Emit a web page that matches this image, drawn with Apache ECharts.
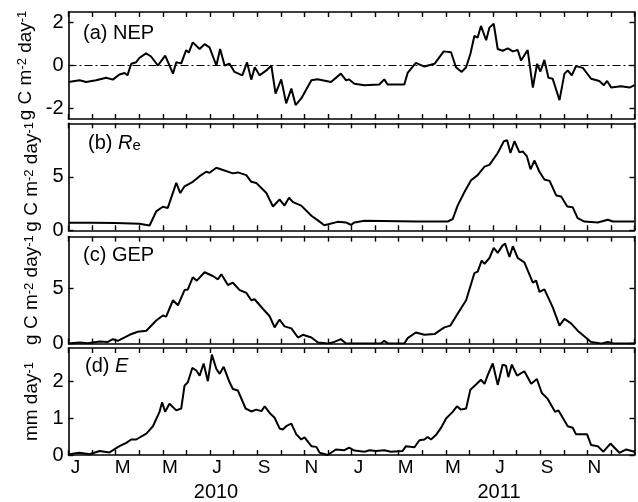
<!DOCTYPE html>
<html><head><meta charset="utf-8">
<script src="https://cdn.jsdelivr.net/npm/echarts@6/dist/echarts.min.js"></script>
<style>html,body{margin:0;padding:0;background:#fff}#c{width:638px;height:502px}</style>
</head><body><div id="c"></div>
<script>
// x values are months since 1 Jan 2010
const nepMonths = [0,0.47,0.75,1.17,1.6,1.88,2.16,2.38,2.5,2.66,2.87,3.0,3.29,3.5,3.79,4.1,4.43,4.57,4.78,4.99,5.1,5.27,5.56,5.77,5.98,6.27,6.43,6.62,6.83,7.04,7.37,7.57,7.75,7.9,8.1,8.39,8.6,8.78,9.02,9.23,9.45,9.63,9.87,10.3,10.56,11.13,11.55,11.77,11.9,12.12,12.55,13.18,13.39,13.53,14.24,14.38,14.73,15.09,15.52,15.91,16.22,16.43,16.67,16.86,17.04,17.21,17.35,17.49,17.71,17.85,18.03,18.2,18.41,18.63,18.84,19.05,19.19,19.47,19.69,19.87,20.01,20.18,20.35,20.53,20.82,21.03,21.17,21.34,21.52,21.81,22.16,22.51,22.7,22.84,23.01,23.43,23.79,24];
const nepValues = [-0.77,-0.69,-0.77,-0.69,-0.57,-0.66,-0.42,-0.35,-0.46,0.08,0.15,0.35,0.57,0.42,0.0,0.46,-0.38,0.15,0.1,0.72,0.6,1.08,0.77,1.0,0.85,0.0,0.77,0.0,0.08,-0.3,-0.46,0.15,-0.66,-0.08,-0.46,-0.23,0.0,-1.31,-0.65,-1.77,-1.08,-1.85,-1.54,-0.69,-0.64,-0.77,-0.38,-0.69,-0.65,-0.85,-0.92,-0.89,-0.65,-0.89,-0.89,-0.35,0.12,-0.05,0.08,0.66,0.62,-0.08,-0.3,-0.08,0.54,1.38,1.31,1.85,1.18,1.77,1.95,0.77,0.69,0.8,0.66,0.72,0.23,0.72,-1.03,0.08,-0.28,0.26,-0.57,-0.62,-1.62,-0.38,-0.23,-0.46,-0.03,-0.11,-0.62,-0.72,-0.92,-0.72,-1.03,-0.97,-1.03,-0.92];

const reMonths = [0,1,2,3,3.44,3.72,4.0,4.21,4.57,4.74,4.92,5.27,5.56,5.84,5.98,6.27,6.55,6.97,7.18,7.54,7.75,7.96,8.39,8.67,8.95,9.16,9.35,9.52,9.87,10.3,10.56,10.85,11.41,11.77,11.98,12.12,12.55,14.81,16.08,16.29,16.5,16.79,17.07,17.35,17.64,17.85,17.92,18.2,18.46,18.6,18.74,18.91,19.12,19.26,19.44,19.59,19.76,19.97,20.18,20.4,20.68,20.89,21.15,21.38,21.59,21.88,22.44,22.87,23.08,24];
const reValues = [0.7,0.7,0.68,0.62,0.45,1.77,2.2,2.09,4.43,3.48,4.11,4.53,5.06,5.47,5.38,5.85,5.63,5.32,5.41,5.16,4.53,4.43,3.48,2.22,2.88,2.31,3.04,2.63,2.31,1.36,0.95,0.47,0.79,0.73,0.51,0.73,0.89,0.82,0.82,1.04,2.31,3.58,4.68,5.16,5.95,6.11,5.95,7.22,8.32,8.42,7.22,8.32,7.28,7.37,6.9,5.7,6.52,5.47,4.75,4.62,3.26,3.16,2.22,2.15,1.14,0.82,0.73,0.98,0.82,0.82];

const gepMonths = [0,0.47,0.82,1.32,1.67,1.88,2.09,2.59,2.94,3.3,3.72,4.0,4.14,4.43,4.64,4.92,5.06,5.27,5.44,5.77,6.12,6.34,6.48,6.76,6.97,7.26,7.54,7.75,7.89,8.24,8.53,8.74,8.95,9.16,9.45,9.73,9.94,10.3,10.58,10.99,11.27,11.55,11.77,13.25,13.39,13.56,14.24,14.38,14.73,15.09,15.52,15.73,15.94,16.19,16.5,16.86,17.21,17.35,17.52,17.64,17.85,18.03,18.2,18.41,18.51,18.7,18.84,19.05,19.33,19.69,19.83,19.97,20.18,20.53,20.82,21.03,21.31,21.59,22.16,22.58,22.87,23.15,24];
const gepValues = [0,0.1,0.03,0.18,0.15,0.4,0.25,0.8,1.07,1.17,2.09,2.55,2.45,3.93,3.47,4.85,4.91,6.01,5.71,6.47,6.13,5.83,6.29,5.31,5.52,4.85,4.6,3.93,4.02,3.16,2.48,1.47,2.18,1.56,1.38,0.55,0.8,0.55,0.1,0,0.15,0.4,0,0,0.25,0,0,0.49,1.01,0.8,0.86,1.17,1.47,1.63,2.7,3.93,6.38,6.53,7.52,7.24,7.76,8.68,8.22,8.9,9.08,7.85,8.83,7.76,7.36,5.52,5.71,4.69,4.91,3.31,1.63,2.24,1.84,1.17,0.15,0,0.15,0,0];

const eMonths = [0,0.47,0.89,1.32,1.74,2.16,2.45,2.66,2.87,3.3,3.58,3.86,3.97,4.1,4.28,4.57,4.78,4.92,5.06,5.25,5.42,5.56,5.73,5.91,6.08,6.27,6.41,6.58,6.83,6.97,7.18,7.51,7.75,7.96,8.18,8.32,8.53,8.74,8.95,9.09,9.23,9.45,9.66,9.87,10.01,10.3,10.51,10.65,10.99,11.34,11.7,11.9,12.12,12.55,12.76,13.04,13.39,13.67,14.17,14.31,14.67,14.88,15.09,15.23,15.37,15.58,15.8,16.01,16.29,16.47,16.64,16.86,17.04,17.28,17.49,17.64,17.78,17.99,18.2,18.41,18.55,18.65,18.8,19.02,19.33,19.62,19.86,20.07,20.32,20.63,20.77,21.17,21.38,21.52,21.99,22.16,22.44,22.68,22.98,23.36,23.65,24];
const eValues = [0.02,0.06,0.02,0.11,0.07,0.24,0.33,0.42,0.42,0.58,0.78,1.17,1.43,1.17,1.39,1.21,1.26,1.88,1.97,2.36,2.29,2.15,2.48,2.0,2.72,2.33,2.2,2.39,1.97,1.79,1.75,1.26,1.18,1.23,1.19,1.32,1.14,1.01,0.72,0.69,0.78,0.85,0.56,0.42,0.48,0.24,0.22,0.06,0.0,0.15,0.13,0.2,0.12,0.09,0.13,0.11,0.13,0.09,0.11,0.24,0.21,0.4,0.42,0.49,0.42,0.54,0.74,0.99,1.17,1.32,1.23,1.26,1.77,1.91,2.04,1.93,2.17,2.48,1.9,2.45,2.42,2.11,2.45,2.15,2.27,1.93,2.06,1.68,1.52,1.17,1.21,0.78,0.74,0.56,0.56,0.27,0.24,0.09,0.31,0.06,0.15,0.09];

const monthTickLabels = ['J','M','M','J','S','N','J','M','M','J','S','N'];
const monthLabelPositions = [0,2,4,6,8,10,12,14,16,18,20,22];
const yearLabels = ['2010','2011'];
const yearLabelPositions = [6,18];

const panelTitles = ['(a) NEP','(b) {i|R}{sub|e}','(c) GEP','(d) {i|E}'];
const yTicks = [[-2,0,2],[0,5],[0,5],[0,1,2]];
const yRanges = [[-2.5,2.5],[0,10],[0,9.7],[0,2.9]];
const fluxUnit = '{n|g C m}{s|-2}{n| day}{s|-1}';
const waterUnit = '{n|mm day}{s|-1}';
const yNames = [fluxUnit, fluxUnit, fluxUnit, waterUnit];

const FONT = '"Liberation Sans", Arial, Helvetica, sans-serif';
const gridTops = [12, 123.3, 236.6, 348];
const gridH = 107;

const pairs = (xs, ys) => xs.map((x, i) => [x, ys[i]]);
const seriesData = [pairs(nepMonths, nepValues), pairs(reMonths, reValues), pairs(gepMonths, gepValues), pairs(eMonths, eValues)];

const lineCol = '#000';
const grid = gridTops.map(t => ({left: 68.5, right: 3.5, top: t, height: gridH, containLabel: false}));
const xAxis = [], yAxis = [], series = [], title = [];
const axLine = {show: true, onZero: false, lineStyle: {color: lineCol, width: 1.6}};
const tick = {show: true, inside: true, length: 5, lineStyle: {color: lineCol, width: 1.4}};
const nameRich = {
  n: {fontSize: 19, fontFamily: FONT, color: '#000'},
  s: {fontSize: 13, fontFamily: FONT, color: '#000', verticalAlign: 'top'}
};

for (let g = 0; g < 4; g++) {
  const isLast = g === 3;
  xAxis.push({
    type: 'value', gridIndex: g, position: 'bottom', min: 0, max: 24, interval: 1,
    axisLine: axLine, axisTick: tick, splitLine: {show: false},
    axisLabel: isLast ? {
      show: true, customValues: monthLabelPositions,
      formatter: v => monthTickLabels[monthLabelPositions.indexOf(v)] || '',
      fontSize: 19, fontFamily: FONT, color: '#000', margin: 3, padding: [0, 0, 0, 14]
    } : {show: false}
  });
  xAxis.push({
    type: 'value', gridIndex: g, position: 'top', min: 0, max: 24, interval: 1,
    axisLine: axLine, axisTick: tick, splitLine: {show: false}, axisLabel: {show: false}
  });
  yAxis.push({
    type: 'value', gridIndex: g, position: 'left', min: yRanges[g][0], max: yRanges[g][1],
    axisLine: axLine, splitLine: {show: false},
    axisTick: Object.assign({}, tick, {customValues: yTicks[g]}),
    axisLabel: {customValues: yTicks[g], fontSize: 20, fontFamily: FONT, color: '#000', margin: 5},
    name: yNames[g], nameLocation: 'middle', nameRotate: 90, nameGap: isLast ? 18 : 26,
    nameTextStyle: {rich: nameRich}
  });
  yAxis.push({
    type: 'value', gridIndex: g, position: 'right', min: yRanges[g][0], max: yRanges[g][1],
    axisLine: axLine, splitLine: {show: false},
    axisTick: Object.assign({}, tick, {customValues: yTicks[g]}),
    axisLabel: {show: false}
  });
  const s = {
    type: 'line', xAxisIndex: 2 * g, yAxisIndex: 2 * g, data: seriesData[g],
    showSymbol: false, symbol: 'none', lineStyle: {color: lineCol, width: 2}, z: 3
  };
  if (g === 0) {
    s.markLine = {
      silent: true, symbol: 'none', label: {show: false},
      lineStyle: {color: '#000', width: 1, type: [8, 3, 2, 3]},
      data: [{yAxis: 0}]
    };
  }
  series.push(s);
}
// year labels beneath the month letters
xAxis.push({
  type: 'value', gridIndex: 3, position: 'bottom', offset: 24, min: 0, max: 24,
  axisLine: {show: false}, axisTick: {show: false}, splitLine: {show: false},
  axisLabel: {
    customValues: yearLabelPositions,
    formatter: v => yearLabels[yearLabelPositions.indexOf(v)] || '',
    fontSize: 20, fontFamily: FONT, color: '#000', margin: 3, padding: [0, 0, 0, 12]
  }
});

const titleLeft = [83, 88, 83, 85];
const titleTop = [23, 133, 245, 356];
for (let g = 0; g < 4; g++) {
  title.push({
    text: panelTitles[g], left: titleLeft[g], top: titleTop[g], padding: 0,
    textStyle: {
      fontSize: 20, fontWeight: 'normal', fontFamily: FONT, color: '#000',
      rich: {
        i: {fontSize: 20, fontStyle: 'italic', fontFamily: FONT, color: '#000'},
        sub: {fontSize: 15, fontFamily: FONT, color: '#000', verticalAlign: 'bottom'}
      }
    }
  });
}

const chart = echarts.init(document.getElementById('c'), null, {renderer: 'canvas'});
chart.setOption({animation: false, backgroundColor: '#fff', title, grid, xAxis, yAxis, series});
</script></body></html>
